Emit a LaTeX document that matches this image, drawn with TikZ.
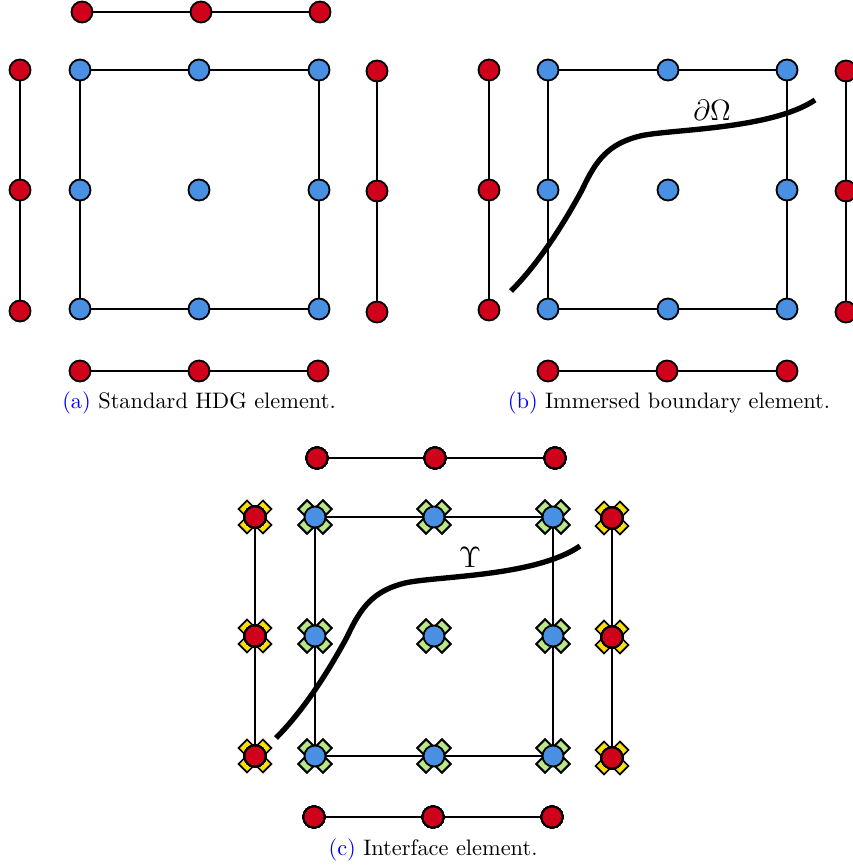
\documentclass[tikz,border=0pt]{standalone}
\definecolor{nodered}{RGB}{208,2,27}
\definecolor{nodeblue}{RGB}{74,144,226}
\definecolor{piecey}{RGB}{248,222,10}
\definecolor{pieceg}{RGB}{184,233,134}
\tikzset{
  x=0.6pt,y=-0.6pt,
  edge/.style={line width=1.1pt,black},
  dotnode/.style={circle,draw=black,line width=1.1pt,minimum size=12.6pt,inner sep=0pt},
  rednode/.style={dotnode,fill=nodered},
  bluenode/.style={dotnode,fill=nodeblue},
  piece/.style={rectangle,draw=black,line width=1pt,minimum width=7.2pt,minimum height=7.7pt,inner sep=0pt},
  curve/.style={line width=3.2pt,black},
  captionnode/.style={inner sep=0pt,anchor=center,scale=1.343},
  lab/.style={inner sep=0pt,scale=1.22,font=\Large},
}
% \crossmark{x}{y}{colour}
\newcommand{\crossmark}[3]{%
  \foreach \a in {45,135,225,315}{%
    \node[piece,fill=#3,rotate=\a] at ([shift={(\a:10.8)}]#1,#2) {};
  }%
}
\begin{document}
\begin{tikzpicture}
\useasboundingbox (0,0) rectangle (852,866);
% ---------- (a)
\foreach \n/\x/\y in {at/82/12,bt/201/12,ct/320/12,al/20/70,bl/20/190,cl/20/311,ar/377/71,br/377/191,cr/377/312,ab/80/371,bb/199/371,cb/318/371}
  \node[rednode] (a\n) at (\x,\y) {};
\foreach \n/\x/\y in {1/80/70,2/199/70,3/319/70,4/80/190,5/199/190,6/319/190,7/80/309,8/199/309,9/319/309}
  \node[bluenode] (am\n) at (\x,\y) {};
\draw[edge] (aat)--(abt) (abt)--(act) (aal)--(abl) (abl)--(acl) (aar)--(abr) (abr)--(acr) (aab)--(abb) (abb)--(acb);
\draw[edge] (am1)--(am2) (am2)--(am3) (am3)--(am6) (am6)--(am9) (am9)--(am8) (am8)--(am7) (am7)--(am4) (am4)--(am1);
\node[captionnode] (acap) at (199,403) {\textcolor{blue}{(a)} Standard HDG element.};
% ---------- (b)
\foreach \n/\x/\y in {al/489/70,bl/489/190,cl/489/310,ar/846/71,br/846/191,cr/846/312,ab/548/371,bb/667/371,cb/787/371}
  \node[rednode] (b\n) at (\x,\y) {};
\foreach \n/\x/\y in {1/548/70,2/668/70,3/787/70,4/548/190,5/668/190,6/787/190,7/548/309,8/668/309,9/787/309}
  \node[bluenode] (bm\n) at (\x,\y) {};
\draw[edge] (bal)--(bbl) (bbl)--(bcl) (bar)--(bbr) (bbr)--(bcr) (bab)--(bbb) (bbb)--(bcb);
\draw[edge] (bm1)--(bm2) (bm2)--(bm3) (bm3)--(bm6) (bm6)--(bm9) (bm9)--(bm8) (bm8)--(bm7) (bm7)--(bm4) (bm4)--(bm1);
\coordinate (bs) at (511,291);
\coordinate (be) at (815,100);
\draw[curve] (bs) .. controls (530,272) and (555,240) .. (582,190)
  .. controls (596,160) and (608,144) .. (640,136)
  .. controls (670,129) and (770,130) .. (be);
\node[lab] (blab) at (712,110) {$\partial\Omega$};
\node[captionnode] (bcap) at (669,403) {\textcolor{blue}{(b)} Immersed boundary element.};
% ---------- (c)
\foreach \x/\y in {255/517,255/636,255/756,612/518,612/637,612/758}
  \crossmark{\x}{\y}{piecey}
\foreach \x/\y in {315/517,434/517,553/517,315/636,434/636,553/636,315/756,434/756,553/756}
  \crossmark{\x}{\y}{pieceg}
\foreach \n/\x/\y in {at/317/458,bt/435/458,ct/555/458,al/255/517,bl/255/636,cl/255/756,ar/612/518,br/612/637,cr/612/758,ab/314/817,bb/433/817,cb/552/817}
  \node[rednode] (c\n) at (\x,\y) {};
\foreach \n/\x/\y in {1/315/517,2/434/517,3/553/517,4/315/636,5/434/636,6/553/636,7/315/756,8/434/756,9/553/756}
  \node[bluenode] (cm\n) at (\x,\y) {};
\draw[edge] (cat)--(cbt) (cbt)--(cct) (cal)--(cbl) (cbl)--(ccl) (car)--(cbr) (cbr)--(ccr) (cab)--(cbb) (cbb)--(ccb);
\draw[edge] (cm1)--(cm2) (cm2)--(cm3) (cm3)--(cm6) (cm6)--(cm9) (cm9)--(cm8) (cm8)--(cm7) (cm7)--(cm4) (cm4)--(cm1);
\coordinate (cs) at (276,738);
\coordinate (ce) at (580,546);
\draw[curve] (cs) .. controls (295,719) and (320,687) .. (347,637)
  .. controls (361,607) and (373,591) .. (405,583)
  .. controls (435,576) and (535,577) .. (ce);
\node[lab] (clab) at (470,557) {$\Upsilon$};
\node[captionnode] (ccap) at (433,850) {\textcolor{blue}{(c)} Interface element.};
\end{tikzpicture}
\end{document}
